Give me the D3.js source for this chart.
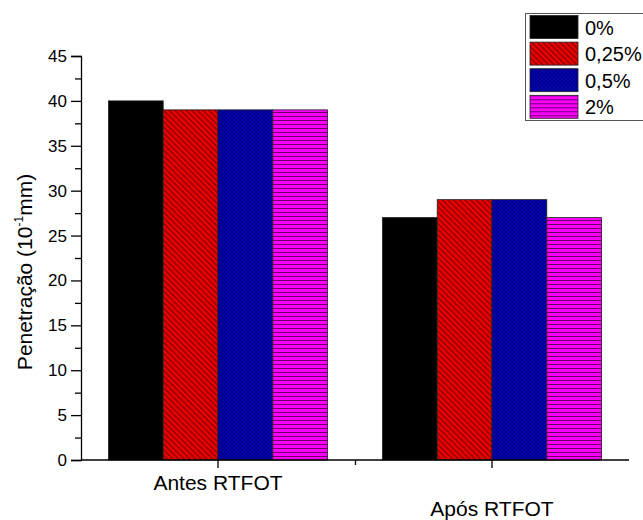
<!DOCTYPE html>
<html>
<head>
<meta charset="utf-8">
<script src="https://cdnjs.cloudflare.com/ajax/libs/d3/7.8.5/d3.min.js"></script>
<style>
  body { margin: 0; background: #fff; }
  svg { display: block; font-family: "Liberation Sans", Arial, sans-serif; }
</style>
</head>
<body>
<svg id="chart" width="643" height="520"></svg>
<script>
var categories = ["Antes RTFOT", "Após RTFOT"];
var series = ["0%", "0,25%", "0,5%", "2%"];
var valuesAntes = [40, 39, 39, 39];
var valuesApos = [27, 29, 29, 27];
var yTicks = [0, 5, 10, 15, 20, 25, 30, 35, 40, 45];

var svg = d3.select("#chart");
var mLeft = 81, mRight = 629, mTop = 56, mBottom = 460;

var x = d3.scaleBand().domain(categories).range([mLeft, mRight])
    .paddingInner(0.2).paddingOuter(0.1);
var xs = d3.scaleBand().domain(series).range([0, x.bandwidth()]);
var y = d3.scaleLinear().domain([0, 45]).range([mBottom, mTop]);

// fill patterns, one for each series
var defs = svg.append("defs");

var pr = defs.append("pattern").attr("id", "p1")
    .attr("patternUnits", "userSpaceOnUse").attr("width", 4).attr("height", 4)
    .attr("patternTransform", "rotate(-45)");
pr.append("rect").attr("width", 4).attr("height", 4).attr("fill", "#f00000");
pr.append("line").attr("x1", 1).attr("x2", 1).attr("y1", 0).attr("y2", 4)
    .attr("stroke", "#5a0000").attr("stroke-width", 1);

var pb = defs.append("pattern").attr("id", "p2")
    .attr("patternUnits", "userSpaceOnUse").attr("width", 4).attr("height", 4);
pb.append("rect").attr("width", 4).attr("height", 4).attr("fill", "#0000c8");
pb.append("path").attr("d", "M0,0L4,4M4,0L0,4M-1,1L1,-1M3,5L5,3M-1,3L1,5M3,-1L5,1")
    .attr("stroke", "#00004a").attr("stroke-width", 0.7).attr("fill", "none");

var pm = defs.append("pattern").attr("id", "p3")
    .attr("patternUnits", "userSpaceOnUse").attr("width", 4).attr("height", 4);
pm.append("rect").attr("width", 4).attr("height", 4).attr("fill", "#ff00ff");
pm.append("line").attr("x1", 0).attr("x2", 4).attr("y1", 0.5).attr("y2", 0.5)
    .attr("stroke", "#6a006a").attr("stroke-width", 1);

var fills = ["#000000", "url(#p1)", "url(#p2)", "url(#p3)"];

var data = [
  { cat: categories[0], vals: valuesAntes },
  { cat: categories[1], vals: valuesApos }
];

// bars
var groups = svg.selectAll(".grp").data(data).enter().append("g")
    .attr("class", "grp")
    .attr("transform", function(d) { return "translate(" + x(d.cat) + ",0)"; });

groups.selectAll("rect")
    .data(function(d) { return d.vals.map(function(v, i) { return { s: series[i], v: v, i: i }; }); })
    .enter().append("rect")
    .attr("x", function(d) { return xs(d.s); })
    .attr("y", function(d) { return y(d.v); })
    .attr("width", xs.bandwidth())
    .attr("height", function(d) { return mBottom - y(d.v); })
    .attr("fill", function(d) { return fills[d.i]; })
    .attr("stroke", "#222")
    .attr("stroke-width", 0.8);

// y axis
var yAxis = svg.append("g").attr("transform", "translate(" + mLeft + ",0)")
    .call(d3.axisLeft(y).tickValues(yTicks).tickSize(10).tickPadding(4));
svg.append("g").attr("transform", "translate(" + mLeft + ",0)")
    .call(d3.axisLeft(y).tickValues(d3.range(2.5, 45, 5)).tickSize(6).tickFormat(""))
    .select(".domain").remove();
yAxis.selectAll("text").attr("font-size", 17).attr("fill", "#000")
    .attr("font-family", "Liberation Sans, Arial, sans-serif");

// x axis
var xAxis = svg.append("g").attr("transform", "translate(0," + mBottom + ")")
    .call(d3.axisBottom(x).tickSize(8).tickFormat(""));
xAxis.select(".domain").attr("d", "M" + mLeft + ",0H" + mRight);
svg.append("g").attr("transform", "translate(0," + mBottom + ")")
    .call(d3.axisBottom(d3.scaleLinear().domain([0, 1]).range([x(categories[0]) + x.bandwidth() / 2, x(categories[1]) + x.bandwidth() / 2]))
      .tickValues([0.5]).tickSize(5).tickFormat(""))
    .select(".domain").remove();

svg.selectAll(".domain, .tick line").attr("stroke", "#000").attr("stroke-width", 1.3);

// staggered category labels
svg.selectAll(".xlab").data(categories).enter().append("text")
    .attr("class", "xlab")
    .attr("x", function(d) { return x(d) + x.bandwidth() / 2; })
    .attr("y", function(d, i) { return i === 0 ? 490 : 516; })
    .attr("text-anchor", "middle")
    .attr("font-size", 21)
    .text(function(d) { return d; });

// y title
var yt = svg.append("text")
    .attr("transform", "translate(32,272) rotate(-90)")
    .attr("text-anchor", "middle")
    .attr("font-size", 21);
yt.append("tspan").text("Penetração (10");
yt.append("tspan").attr("font-size", 12).attr("dy", -9).text("-1");
yt.append("tspan").attr("dy", 9).text("mm)");

// legend
var lg = svg.append("g");
lg.append("rect").attr("x", 525.5).attr("y", 13.5).attr("width", 130).attr("height", 107)
    .attr("fill", "#fff").attr("stroke", "#555").attr("stroke-width", 1);
var items = lg.selectAll(".li").data(series).enter().append("g")
    .attr("transform", function(d, i) { return "translate(530," + (15.5 + i * 26.6) + ")"; });
items.append("rect").attr("width", 48).attr("height", 23)
    .attr("fill", function(d, i) { return fills[i]; })
    .attr("stroke", "#222").attr("stroke-width", 0.8);
items.append("text").attr("x", 55).attr("y", 12).attr("dy", "0.36em")
    .attr("font-size", 20).text(function(d) { return d; });
</script>
</body>
</html>
